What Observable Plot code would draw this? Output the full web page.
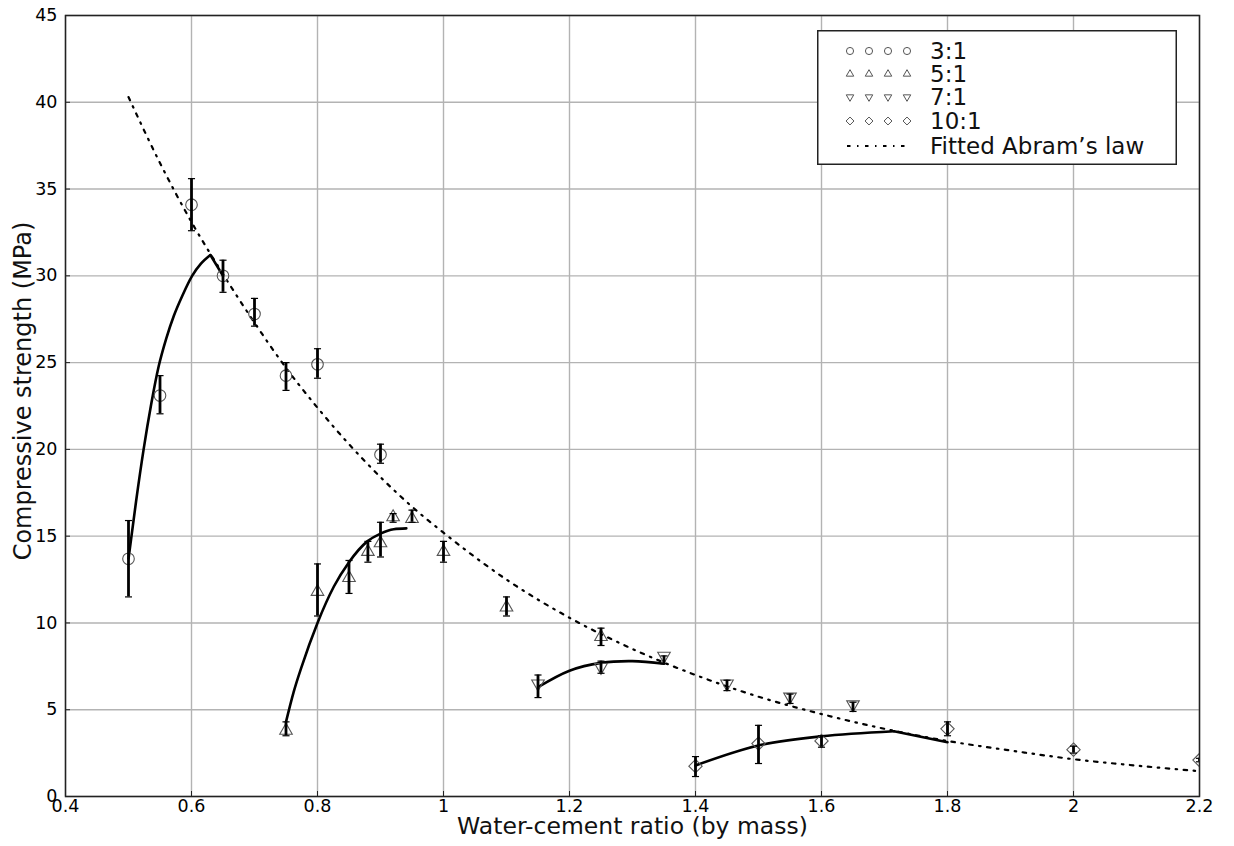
<!DOCTYPE html>
<html><head><meta charset="utf-8">
<script src="https://cdn.jsdelivr.net/npm/d3@7"></script>
<script src="https://cdn.jsdelivr.net/npm/@observablehq/plot@0.6"></script>
<style>
html,body{margin:0;padding:0;background:#fff;}
#wrap{position:relative;width:1234px;height:846px;overflow:hidden;}
#legend{position:absolute;left:817px;top:30px;}
</style></head><body><div id="wrap"></div>
<script>
// ---- data ----
const xTicks = [0.4, 0.6, 0.8, 1.0, 1.2, 1.4, 1.6, 1.8, 2.0, 2.2];
const xTickLabels = ["0.4", "0.6", "0.8", "1", "1.2", "1.4", "1.6", "1.8", "2", "2.2"];
const yTicks = [0, 5, 10, 15, 20, 25, 30, 35, 40, 45];
const yTickLabels = ["0", "5", "10", "15", "20", "25", "30", "35", "40", "45"];
const xLabel = "Water-cement ratio (by mass)";
const yLabel = "Compressive strength (MPa)";
const seriesNames = ["3:1", "5:1", "7:1", "10:1"];
const fitName = "Fitted Abram\u2019s law";

// 3:1
const s31x  = [0.5, 0.55, 0.6, 0.65, 0.7, 0.75, 0.8, 0.9];
const s31y  = [13.7, 23.1, 34.1, 30.0, 27.8, 24.25, 24.9, 19.7];
const s31lo = [11.5, 22.05, 32.6, 29.05, 27.1, 23.4, 24.1, 19.2];
const s31hi = [15.9, 24.25, 35.6, 30.9, 28.7, 25.0, 25.8, 20.3];
// 5:1
const s51x  = [0.75, 0.8, 0.85, 0.88, 0.9, 0.92, 0.95, 1.0, 1.1, 1.25];
const s51y  = [3.8, 11.8, 12.6, 14.1, 14.6, 16.1, 16.0, 14.1, 10.9, 9.2];
const s51lo = [3.5, 10.4, 11.7, 13.5, 13.8, 15.8, 15.8, 13.5, 10.4, 8.7];
const s51hi = [4.3, 13.4, 13.6, 14.7, 15.8, 16.3, 16.5, 14.7, 11.5, 9.7];
// 7:1
const s71x  = [1.15, 1.25, 1.35, 1.45, 1.55, 1.65];
const s71y  = [6.5, 7.45, 8.1, 6.5, 5.75, 5.3];
const s71lo = [5.7, 7.1, 7.65, 6.1, 5.36, 4.9];
const s71hi = [7.0, 7.8, 8.1, 6.7, 5.9, 5.43];
// 10:1
const s101x  = [1.4, 1.5, 1.6, 1.8, 2.0, 2.2];
const s101y  = [1.75, 3.05, 3.2, 3.9, 2.7, 2.1];
const s101lo = [1.15, 1.9, 2.84, 3.5, 2.5, 2.0];
const s101hi = [2.3, 4.1, 3.5, 4.3, 2.9, 2.2];

// fitted curves per series
const fit31x = [0.5, 0.512, 0.524, 0.536, 0.548, 0.56, 0.572, 0.586, 0.601, 0.615, 0.63];
const fit31y = [13.7, 17.0, 20.0, 22.6, 24.8, 26.4, 27.7, 28.9, 30.0, 30.7, 31.2];
const fit31tailx = [0.63, 0.65];
const fit31taily = [31.2, 30.0];
const fit51x = [0.75, 0.762, 0.775, 0.8, 0.826, 0.85, 0.879, 0.9, 0.921, 0.941];
const fit51y = [4.3, 6.0, 7.5, 10.0, 12.1, 13.5, 14.7, 15.15, 15.4, 15.45];
const fit71x = [1.15, 1.2, 1.25, 1.3, 1.35];
const fit71y = [6.3, 7.25, 7.7, 7.8, 7.65];
const fit101x = [1.4, 1.5, 1.6, 1.715];
const fit101y = [1.79, 2.94, 3.47, 3.76];
const fit101tailx = [1.715, 1.8];
const fit101taily = [3.76, 3.13];

// fitted Abram's law (dash-dot curve)
const abramX = [0.5, 0.55, 0.6, 0.65, 0.7, 0.75, 0.8, 0.85, 0.9, 0.95, 1.0, 1.1, 1.2, 1.3, 1.4, 1.5, 1.6, 1.7, 1.8, 1.9, 2.0, 2.1, 2.2];
const abramY = [40.3, 36.5, 33.1, 30.1, 27.3, 24.7, 22.4, 20.3, 18.4, 16.7, 15.2, 12.5, 10.3, 8.5, 7.0, 5.75, 4.75, 3.9, 3.2, 2.65, 2.15, 1.78, 1.46];

// ---- build tables ----
const pts = (xs, ys, lo, hi) => xs.map((x, i) => ({x, y: ys[i], lo: lo[i], hi: hi[i]}));
const line = (xs, ys) => xs.map((x, i) => ({x, y: ys[i]}));
const d31 = pts(s31x, s31y, s31lo, s31hi);
const d51 = pts(s51x, s51y, s51lo, s51hi);
const d71 = pts(s71x, s71y, s71lo, s71hi);
const d101 = pts(s101x, s101y, s101lo, s101hi);
const allPts = [...d31, ...d51, ...d71, ...d101];

const capSymbol = {draw(ctx, size) { const w = Math.sqrt(size) / 2; ctx.moveTo(-w, 0); ctx.lineTo(w, 0); }};
const markerStroke = "#555";
const dashDot = "3.5,6.5,1.5,6.5";

const chart = Plot.plot({
  width: 1234,
  height: 846,
  marginTop: 15,
  marginBottom: 50,
  marginLeft: 65,
  marginRight: 35,
  style: {fontFamily: "'DejaVu Sans', sans-serif", fontSize: "17px", background: "white", color: "black"},
  x: {domain: [0.4, 2.2], ticks: xTicks},
  y: {domain: [0, 45], ticks: yTicks},
  marks: [
    Plot.gridX(xTicks, {stroke: "#b3b3b3", strokeOpacity: 1, strokeWidth: 1.4}),
    Plot.gridY(yTicks, {stroke: "#b3b3b3", strokeOpacity: 1, strokeWidth: 1.4}),
    Plot.axisX(xTicks, {tickSize: -5, tickPadding: 8, tickFormat: (d, i) => xTickLabels[i], label: null, fontSize: 17.5, stroke: "#222"}),
    Plot.axisY(yTicks, {tickSize: -5, tickPadding: 13, tickFormat: (d, i) => yTickLabels[i], label: null, fontSize: 17.5, stroke: "#222"}),
    // Abram's law
    Plot.line(line(abramX, abramY), {x: "x", y: "y", curve: "monotone-x", stroke: "black", strokeWidth: 2.2, strokeDasharray: dashDot}),
    // fitted solid curves
    Plot.line(line(fit31x, fit31y), {x: "x", y: "y", curve: "monotone-x", stroke: "black", strokeWidth: 2.6}),
    Plot.line(line(fit31tailx, fit31taily), {x: "x", y: "y", stroke: "black", strokeWidth: 2.6}),
    Plot.line(line(fit51x, fit51y), {x: "x", y: "y", curve: "monotone-x", stroke: "black", strokeWidth: 2.6}),
    Plot.line(line(fit71x, fit71y), {x: "x", y: "y", curve: "catmull-rom", stroke: "black", strokeWidth: 2.6}),
    Plot.line(line(fit101x, fit101y), {x: "x", y: "y", curve: "catmull-rom", stroke: "black", strokeWidth: 2.6}),
    Plot.line(line(fit101tailx, fit101taily), {x: "x", y: "y", stroke: "black", strokeWidth: 2.6}),
    // markers
    Plot.dot(d31, {x: "x", y: "y", symbol: "circle", r: 5.8, fill: "none", stroke: markerStroke, strokeWidth: 1.1}),
    Plot.dot(d51, {x: "x", y: "y", symbol: "triangle2", r: 6, fill: "none", stroke: markerStroke, strokeWidth: 1.1}),
    Plot.dot(d71, {x: "x", y: "y", symbol: "triangle2", rotate: 180, r: 6, fill: "none", stroke: markerStroke, strokeWidth: 1.1}),
    Plot.dot(d101, {x: "x", y: "y", symbol: "diamond2", r: 6, fill: "none", stroke: markerStroke, strokeWidth: 1.1, clip: "frame"}),
    // error bars
    Plot.ruleX(allPts, {x: "x", y1: "lo", y2: "hi", stroke: "black", strokeWidth: 2.8, clip: "frame"}),
    Plot.dot(allPts, {x: "x", y: "lo", symbol: capSymbol, r: 4, stroke: "black", strokeWidth: 1.2, fill: "none", clip: "frame"}),
    Plot.dot(allPts, {x: "x", y: "hi", symbol: capSymbol, r: 4, stroke: "black", strokeWidth: 1.2, fill: "none", clip: "frame"}),
    Plot.frame({stroke: "#222", strokeWidth: 1.5}),
    // axis titles
    Plot.text([xLabel], {text: d => d, frameAnchor: "bottom", textAnchor: "middle", dy: 37, fontSize: 23.5, fill: "#111"}),
    Plot.text([yLabel], {text: d => d, frameAnchor: "left", textAnchor: "middle", rotate: -90, dx: -42, dy: -15, fontSize: 24, fill: "#111"})
  ]
});
document.getElementById("wrap").appendChild(chart);

// ---- legend ----
const legW = 360, legH = 135;
const leg = d3.create("svg").attr("id", "legend").attr("width", legW).attr("height", legH)
  .style("font-family", "'DejaVu Sans', sans-serif");
leg.append("rect").attr("x", 0.75).attr("y", 0.75).attr("width", legW - 1.5).attr("height", legH - 1.5)
  .attr("fill", "white").attr("stroke", "#222").attr("stroke-width", 1.5);
const legSymbols = [
  {t: d3.symbolCircle, rot: 0, size: 40},
  {t: d3.symbolTriangle2, rot: 0, size: 40},
  {t: d3.symbolTriangle2, rot: 180, size: 40},
  {t: d3.symbolDiamond2, rot: 0, size: 40}
];
const rowY = [21, 44, 67, 91, 116];
const markX = [33, 52, 71, 90];
seriesNames.forEach((name, i) => {
  markX.forEach(mx => {
    leg.append("path").attr("d", d3.symbol(legSymbols[i].t, legSymbols[i].size)())
      .attr("transform", `translate(${mx},${rowY[i]}) rotate(${legSymbols[i].rot})`)
      .attr("fill", "none").attr("stroke", markerStroke).attr("stroke-width", 1);
  });
  leg.append("text").attr("x", 113).attr("y", rowY[i]).attr("dy", "0.36em")
    .attr("font-size", 23).attr("fill", "#111").text(name);
});
leg.append("line").attr("x1", 30).attr("x2", 94).attr("y1", rowY[4]).attr("y2", rowY[4])
  .attr("stroke", "black").attr("stroke-width", 2.2).attr("stroke-dasharray", dashDot);
leg.append("text").attr("x", 113).attr("y", rowY[4]).attr("dy", "0.36em")
  .attr("font-size", 23).attr("fill", "#111").text(fitName);
document.getElementById("wrap").appendChild(leg.node());
</script>
</body></html>
